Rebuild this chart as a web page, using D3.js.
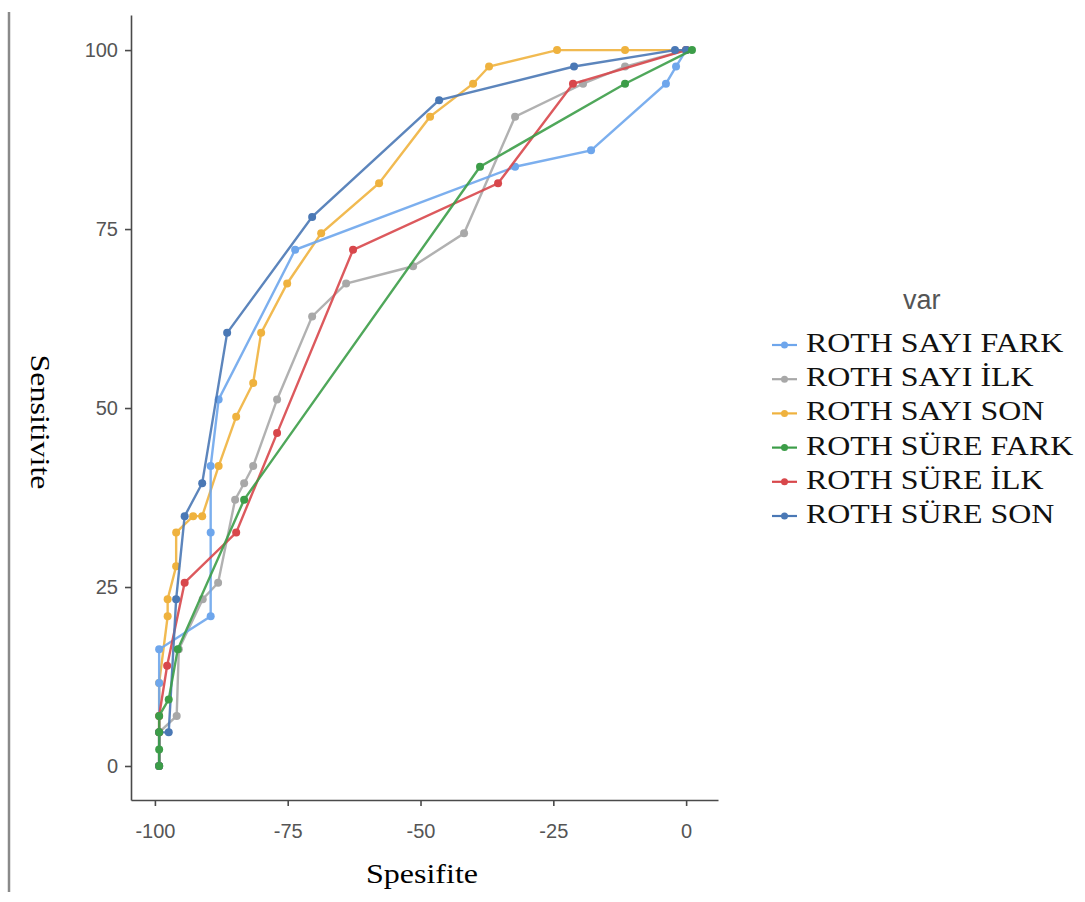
<!DOCTYPE html>
<html>
<head>
<meta charset="utf-8">
<script src="https://cdn.jsdelivr.net/npm/d3@7"></script>
<style>
  body { margin: 0; background: #fff; }
  svg { display: block; }
</style>
</head>
<body>
<svg id="chart" width="1085" height="902"></svg>
<script>
// series names, in legend order
var seriesNames = [
  "ROTH SAYI FARK",
  "ROTH SAYI İLK",
  "ROTH SAYI SON",
  "ROTH SÜRE FARK",
  "ROTH SÜRE İLK",
  "ROTH SÜRE SON"
];
var seriesColors = ["#6ea6ec", "#a8a8a8", "#efb23e", "#3c9d48", "#d8474b", "#4a78b5"];

// Spesifite (x) and Sensitivite (y) for each curve
var sayiFarkX = [-99.2, -99.2, -99.2, -89.5, -89.5, -89.5, -88.0, -73.6, -32.2, -17.9, -3.8, -1.9, 0];
var sayiFarkY = [0, 11.6, 16.3, 20.9, 32.6, 41.9, 51.2, 72.1, 83.7, 86.0, 95.3, 97.7, 100];

var sayiIlkX = [-99.2, -99.2, -95.9, -95.5, -91.0, -88.1, -84.9, -83.2, -81.5, -77.0, -70.4, -64.0, -51.4, -41.8, -32.2, -19.4, -11.5, 0];
var sayiIlkY = [0, 4.7, 7.0, 16.3, 23.3, 25.6, 37.2, 39.5, 41.9, 51.2, 62.8, 67.4, 69.8, 74.4, 90.7, 95.3, 97.7, 100];

var sayiSonX = [-99.2, -99.2, -99.2, -97.6, -97.6, -96.0, -96.0, -92.8, -91.1, -88.0, -84.7, -81.5, -80.0, -75.1, -68.7, -57.8, -48.2, -40.1, -37.1, -24.3, -11.5, 0];
var sayiSonY = [0, 4.7, 11.6, 20.9, 23.3, 27.9, 32.6, 34.9, 34.9, 41.9, 48.8, 53.5, 60.5, 67.4, 74.4, 81.4, 90.7, 95.3, 97.7, 100, 100, 100];

var sureFarkX = [-99.2, -99.2, -99.2, -99.2, -97.4, -95.7, -83.2, -38.8, -11.5, 1.1];
var sureFarkY = [0, 2.3, 4.7, 7.0, 9.3, 16.3, 37.2, 83.7, 95.3, 100];

var sureIlkX = [-99.2, -99.2, -99.2, -97.7, -94.4, -84.7, -77.0, -62.7, -35.4, -21.3, 0];
var sureIlkY = [0, 4.7, 7.0, 14.0, 25.6, 32.6, 46.5, 72.1, 81.4, 95.3, 100];

var sureSonX = [-99.2, -99.2, -97.4, -96.0, -94.4, -91.1, -86.4, -70.4, -46.5, -21.1, -2.1, 0];
var sureSonY = [0, 4.7, 4.7, 23.3, 34.9, 39.5, 60.5, 76.7, 93.0, 97.7, 100, 100];

var xTicks = [-100, -75, -50, -25, 0];
var yTicks = [0, 25, 50, 75, 100];

var seriesX = [sayiFarkX, sayiIlkX, sayiSonX, sureFarkX, sureIlkX, sureSonX];
var seriesY = [sayiFarkY, sayiIlkY, sayiSonY, sureFarkY, sureIlkY, sureSonY];

var svg = d3.select("#chart");

var x = d3.scaleLinear().domain([-104.5, 6]).range([131, 718]);
var y = d3.scaleLinear().domain([-4.75, 104.9]).range([800, 15]);

// thin frame edge at the very left of the picture
svg.append("line")
  .attr("x1", 9).attr("x2", 9)
  .attr("y1", 12).attr("y2", 892)
  .attr("stroke", "#8a8a8a")
  .attr("stroke-width", 2.5);

function styleAxis(g) {
  g.select(".domain").attr("stroke", "#4a4a4a").attr("stroke-width", 1.6);
  g.selectAll(".tick line").attr("stroke", "#4a4a4a").attr("stroke-width", 1.6);
  g.selectAll(".tick text")
    .attr("fill", "#555")
    .style("font-family", "'Liberation Sans', Arial, sans-serif")
    .style("font-size", "20px");
}

// plain hyphen minus, as in the picture
var plain = function(d) { return String(d); };

svg.append("g")
  .attr("transform", "translate(0,800)")
  .call(d3.axisBottom(x).tickValues(xTicks).tickFormat(plain).tickSize(6).tickSizeOuter(0).tickPadding(18))
  .call(styleAxis);

svg.append("g")
  .attr("transform", "translate(131,0)")
  .call(d3.axisLeft(y).tickValues(yTicks).tickFormat(plain).tickSize(6).tickSizeOuter(0).tickPadding(7))
  .call(styleAxis);

// axis titles
svg.append("text")
  .attr("x", 422)
  .attr("y", 883)
  .attr("text-anchor", "middle")
  .attr("textLength", 112)
  .attr("lengthAdjust", "spacingAndGlyphs")
  .style("font-family", "'Liberation Serif', 'Times New Roman', serif")
  .style("font-size", "27px")
  .text("Spesifite");

svg.append("text")
  .attr("transform", "translate(31,422) rotate(90)")
  .attr("text-anchor", "middle")
  .attr("textLength", 135)
  .attr("lengthAdjust", "spacingAndGlyphs")
  .style("font-family", "'Liberation Serif', 'Times New Roman', serif")
  .style("font-size", "27px")
  .text("Sensitivite");

// curves; green drawn last so its markers sit on top as in the picture
var drawOrder = [1, 2, 0, 4, 5, 3];

var line = d3.line()
  .x(function(d) { return x(d[0]); })
  .y(function(d) { return y(d[1]); });

drawOrder.forEach(function(i) {
  var pts = seriesX[i].map(function(v, k) { return [v, seriesY[i][k]]; });
  var g = svg.append("g").attr("class", "series");

  g.append("path")
    .datum(pts)
    .attr("fill", "none")
    .attr("stroke", seriesColors[i])
    .attr("stroke-width", 2.4)
    .attr("stroke-opacity", 0.9)
    .attr("d", line);

  g.selectAll("circle")
    .data(pts)
    .enter()
    .append("circle")
    .attr("cx", function(d) { return x(d[0]); })
    .attr("cy", function(d) { return y(d[1]); })
    .attr("r", 4)
    .attr("fill", seriesColors[i]);
});

// legend
var legend = svg.append("g");

legend.append("text")
  .attr("x", 903)
  .attr("y", 309)
  .attr("fill", "#555")
  .style("font-family", "'Liberation Sans', Arial, sans-serif")
  .style("font-size", "27px")
  .text("var");

var rows = legend.selectAll("g.row")
  .data(seriesNames)
  .enter()
  .append("g")
  .attr("class", "row")
  .attr("transform", function(d, i) { return "translate(0," + (352 + i * 34.2) + ")"; });

rows.append("line")
  .attr("x1", 772).attr("x2", 797)
  .attr("y1", -7).attr("y2", -7)
  .attr("stroke", function(d, i) { return seriesColors[i]; })
  .attr("stroke-width", 2.2);

rows.append("circle")
  .attr("cx", 784.5)
  .attr("cy", -7)
  .attr("r", 3.5)
  .attr("fill", function(d, i) { return seriesColors[i]; });

rows.append("text")
  .attr("x", 806)
  .attr("y", 0)
  .style("font-family", "'Liberation Serif', 'Times New Roman', serif")
  .style("font-size", "28px")
  .attr("fill", "#111")
  .text(function(d) { return d; })
  .each(function() {
    var w = this.getComputedTextLength();
    d3.select(this)
      .attr("textLength", w * 1.14)
      .attr("lengthAdjust", "spacingAndGlyphs");
  });
</script>
</body>
</html>
